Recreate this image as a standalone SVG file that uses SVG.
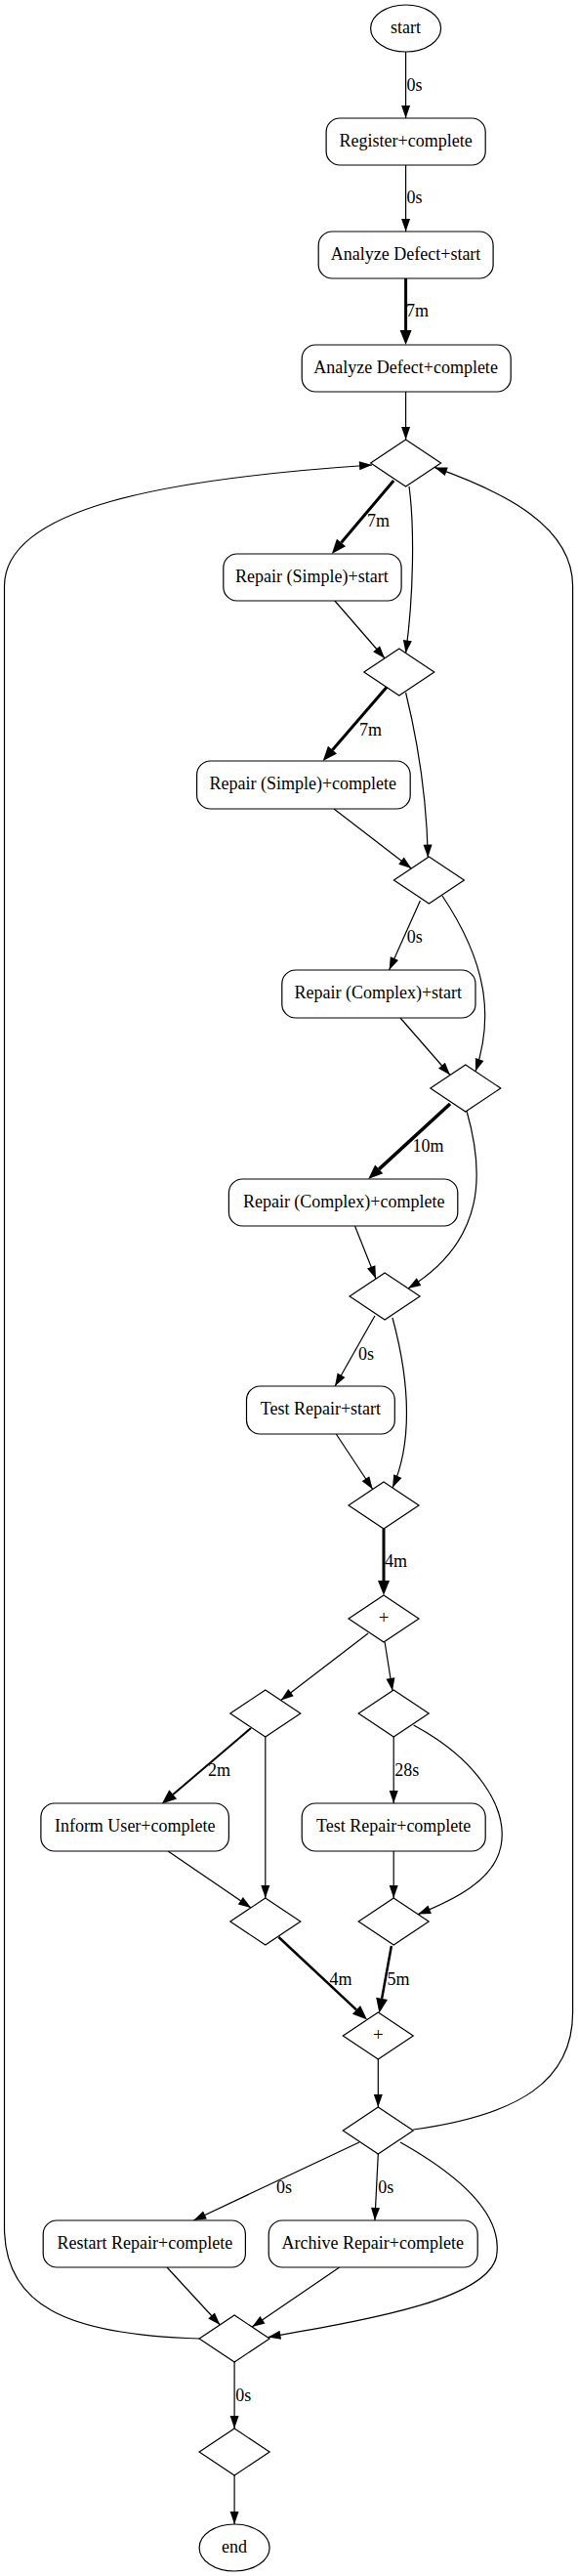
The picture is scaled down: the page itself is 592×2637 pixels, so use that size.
<svg xmlns="http://www.w3.org/2000/svg" width="592" height="2637" viewBox="0 0 592 2637">
<style>
text{font-family:"Liberation Serif","Times New Roman",serif;font-size:18px;fill:#000}
.n{text-anchor:middle}
.p{font-size:19px}
.node{fill:#fff;stroke:#000;stroke-width:1.2}
.e{fill:none;stroke:#000;stroke-width:1.2;marker-end:url(#a)}
.t{fill:none;stroke:#000;marker-end:url(#at)}
</style>
<defs>
<marker id="a" markerUnits="userSpaceOnUse" markerWidth="14" markerHeight="10" refX="13" refY="5" orient="auto" overflow="visible"><path d="M0,0.5 L13,5 L0,9.5 z" fill="#000"/></marker>
<marker id="at" markerUnits="userSpaceOnUse" markerWidth="16" markerHeight="14" refX="0" refY="7" orient="auto" overflow="visible"><path d="M0,1 L15,7 L0,13 z" fill="#000"/></marker>
</defs>
<rect width="592" height="2637" fill="#fff"/>
<g id="edges">
<path class="e" d="M415.6,53 L415.6,121"/><text x="416.5" y="93">0s</text>
<path class="e" d="M415.6,169 L415.6,237"/><text x="416.5" y="208">0s</text>
<path class="t" style="stroke-width:3" d="M415.6,285 L415.6,338"/><text x="416" y="324">7m</text>
<path class="e" d="M415.6,401 L415.6,450"/>
<path class="t" style="stroke-width:3" d="M403.2,492 L349.5,555.5"/><text x="376" y="539">7m</text>
<path class="e" d="M419,498 C424.7,540 423.6,610 415.6,668.5"/>
<path class="e" d="M342,614 L394.1,674"/>
<path class="t" style="stroke-width:3" d="M396.4,703 L340.5,767.7"/><text x="368" y="753">7m</text>
<path class="e" d="M415.6,709 C428.1,760 437.1,820 438.3,877.7"/>
<path class="e" d="M342,828 L421.3,889"/>
<path class="e" d="M430.4,922 L398.6,993"/><text x="416.8" y="965">0s</text>
<path class="e" d="M453,917 C498.3,985 506.2,1040 487,1096.8"/>
<path class="e" d="M410,1042 L461,1100.5"/>
<path class="t" style="stroke-width:3.5" d="M461,1130 L388.2,1196.9"/><text x="422.4" y="1179">10m</text>
<path class="e" d="M477.9,1137 C496,1200 498.3,1270 417.9,1318.9"/>
<path class="e" d="M363.5,1255 L385,1309"/>
<path class="e" d="M383.9,1347 L343.1,1419"/><text x="366.9" y="1392">0s</text>
<path class="e" d="M402,1349 C421.3,1420 421.3,1480 402,1523"/>
<path class="e" d="M344.3,1468 L381.7,1524.5"/>
<path class="t" style="stroke-width:3" d="M393,1565 L393,1618"/><text x="394.1" y="1604">4m</text>
<path class="e" d="M377.1,1672 L287.7,1740.6"/>
<path class="e" d="M394.1,1681 L402,1730.8"/>
<path class="t" style="stroke-width:2" d="M257.1,1769 L177.2,1836.9"/><text x="212.9" y="1818">2m</text>
<path class="e" d="M271.8,1778 L271.8,1943"/>
<path class="e" d="M172.1,1895 L257.1,1953"/>
<path class="e" d="M403.2,1778 L403.2,1846"/><text x="404.3" y="1818">28s</text>
<path class="e" d="M423.6,1766 C487,1800 521,1850 513,1890 C506.2,1925 464.3,1945 428.1,1959.6"/>
<path class="e" d="M403.2,1895 L403.2,1943"/>
<path class="t" style="stroke-width:2.5" d="M285.4,1983 L365,2057.3"/><text x="337.5" y="2032">4m</text>
<path class="t" style="stroke-width:2.5" d="M400.9,1992 L391.1,2045.9"/><text x="396.4" y="2032">5m</text>
<path class="e" d="M387.3,2108 L387.3,2157"/>
<path class="e" d="M368,2193 L198.2,2273"/><text x="283.1" y="2245">0s</text>
<path class="e" d="M387.3,2205 L383.9,2273"/><text x="387.3" y="2245">0s</text>
<path class="e" d="M410,2193 C475.7,2230 515.3,2270 508.5,2310 C498.3,2355 373.7,2375 274.5,2392.5"/>
<path class="e" d="M171,2321 L225.4,2380"/>
<path class="e" d="M347.7,2321 L258.2,2382"/>
<path class="e" d="M240.1,2418 L240.1,2486"/><text x="241.2" y="2458">0s</text>
<path class="e" d="M240.1,2534 L240.1,2584"/>
<path class="e" d="M204.1,2394 C68,2390 4.5,2360 4.5,2280 L4.5,600 C4.5,520 170,490 381,476"/>
<path class="e" d="M423.3,2180 C532.3,2165 586.6,2130 586.6,2060 L586.6,600 C586.6,540 520,505 445,478.4"/>
</g>
<g id="start"><ellipse class="node" cx="415.6" cy="29" rx="36" ry="24"/><text class="n" x="415.6" y="34">start</text></g>
<g id="register"><rect class="node" x="334.1" y="121" width="163.1" height="48" rx="14"/><text class="n" x="415.6" y="150">Register+complete</text></g>
<g id="analyze_start"><rect class="node" x="326.2" y="237" width="178.9" height="48" rx="14"/><text class="n" x="415.6" y="266">Analyze Defect+start</text></g>
<g id="analyze_complete"><rect class="node" x="309.2" y="353" width="214" height="48" rx="14"/><text class="n" x="415.6" y="382">Analyze Defect+complete</text></g>
<g id="d1"><polygon class="node" points="415.6,450 451.6,474 415.6,498 379.6,474"/></g>
<g id="rs_start"><rect class="node" x="228.8" y="567" width="182.3" height="48" rx="14"/><text class="n" x="319.4" y="596">Repair (Simple)+start</text></g>
<g id="d2"><polygon class="node" points="408.8,664 444.8,688 408.8,712 372.8,688"/></g>
<g id="rs_complete"><rect class="node" x="201.6" y="779" width="218.6" height="49" rx="14"/><text class="n" x="310.3" y="808">Repair (Simple)+complete</text></g>
<g id="d3"><polygon class="node" points="439.4,877 475.4,901 439.4,925 403.4,901"/></g>
<g id="rc_start"><rect class="node" x="288.8" y="993" width="198.2" height="49" rx="14"/><text class="n" x="387.3" y="1022">Repair (Complex)+start</text></g>
<g id="d4"><polygon class="node" points="476.8,1090 512.8,1114 476.8,1138 440.8,1114"/></g>
<g id="rc_complete"><rect class="node" x="234.4" y="1207" width="234.4" height="48" rx="14"/><text class="n" x="352.2" y="1236">Repair (Complex)+complete</text></g>
<g id="d5"><polygon class="node" points="394.1,1303 430.1,1327 394.1,1351 358.1,1327"/></g>
<g id="tr_start"><rect class="node" x="252.5" y="1419" width="151.8" height="49" rx="14"/><text class="n" x="328.4" y="1448">Test Repair+start</text></g>
<g id="d6"><polygon class="node" points="393,1517 429,1541 393,1565 357,1541"/></g>
<g id="and1"><polygon class="node" points="393,1633 429,1657 393,1681 357,1657"/><text class="n p" x="393" y="1662">+</text></g>
<g id="d7"><polygon class="node" points="271.8,1730 307.8,1754 271.8,1778 235.8,1754"/></g>
<g id="d8"><polygon class="node" points="403.2,1730 439.2,1754 403.2,1778 367.2,1754"/></g>
<g id="inform"><rect class="node" x="41.9" y="1846" width="192.5" height="49" rx="14"/><text class="n" x="138.2" y="1875">Inform User+complete</text></g>
<g id="tr_complete"><rect class="node" x="309.2" y="1846" width="188" height="49" rx="14"/><text class="n" x="403.2" y="1875">Test Repair+complete</text></g>
<g id="d9"><polygon class="node" points="271.8,1943 307.8,1967 271.8,1991 235.8,1967"/></g>
<g id="d10"><polygon class="node" points="403.2,1943 439.2,1967 403.2,1991 367.2,1967"/></g>
<g id="and2"><polygon class="node" points="387.3,2060 423.3,2084 387.3,2108 351.3,2084"/><text class="n p" x="387.3" y="2089">+</text></g>
<g id="d11"><polygon class="node" points="387.3,2157 423.3,2181 387.3,2205 351.3,2181"/></g>
<g id="restart"><rect class="node" x="44.2" y="2273" width="207.2" height="48" rx="14"/><text class="n" x="148.4" y="2302">Restart Repair+complete</text></g>
<g id="archive"><rect class="node" x="275.2" y="2273" width="214" height="48" rx="14"/><text class="n" x="381.7" y="2302">Archive Repair+complete</text></g>
<g id="d12"><polygon class="node" points="240.1,2370 276.1,2394 240.1,2418 204.1,2394"/></g>
<g id="d13"><polygon class="node" points="240.1,2486 276.1,2510 240.1,2534 204.1,2510"/></g>
<g id="end"><ellipse class="node" cx="240.1" cy="2608" rx="36" ry="24"/><text class="n" x="240.1" y="2613">end</text></g>
</svg>
